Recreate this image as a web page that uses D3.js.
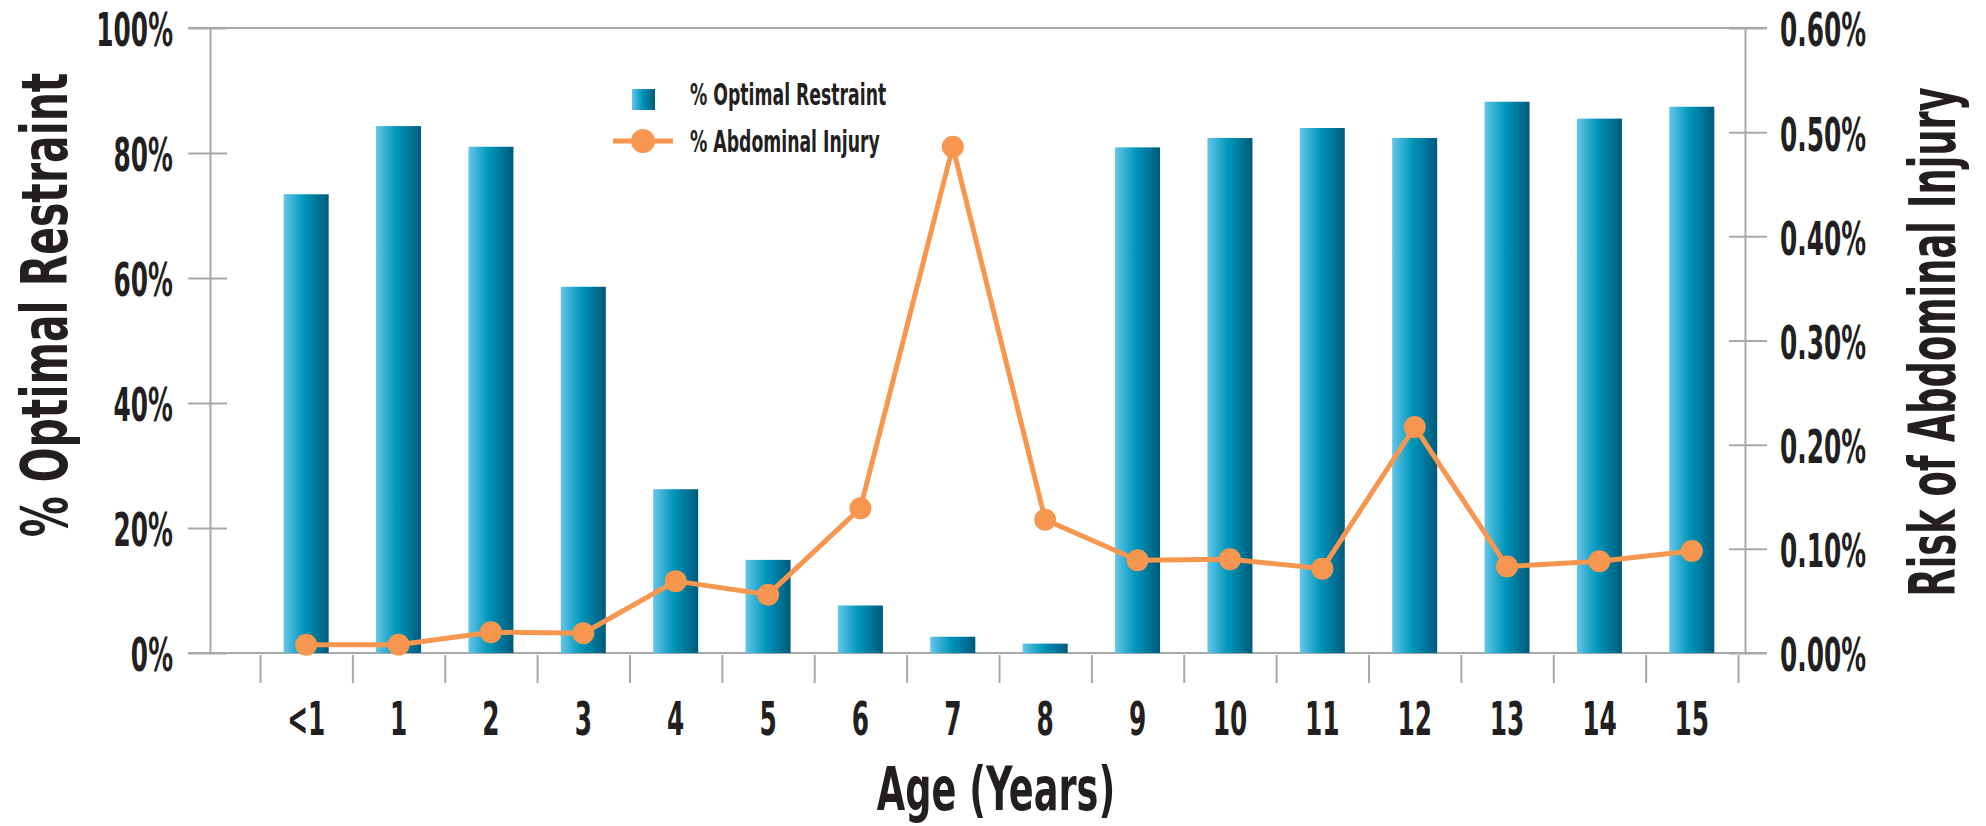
<!DOCTYPE html>
<html>
<head>
<meta charset="utf-8">
<script src="https://cdn.jsdelivr.net/npm/d3@7"></script>
<style>
  body { margin: 0; background: #fff; }
  svg text { font-family: 'DejaVu Sans Condensed', 'Liberation Sans Narrow', sans-serif; font-weight: bold; fill: #231f20; }
</style>
</head>
<body>
<svg id="chart" width="1986" height="826"></svg>
<script>
/* global d3 */
// data
const ages = ['<1', '1', '2', '3', '4', '5', '6', '7', '8', '9', '10', '11', '12', '13', '14', '15']
const optimalRestraint = [73.4, 84.3, 81.0, 58.6, 26.2, 14.9, 7.6, 2.6, 1.5, 80.9, 82.4, 84.0, 82.4, 88.2, 85.5, 87.4]
const abdominalInjury = [0.008, 0.008, 0.020, 0.019, 0.069, 0.056, 0.139, 0.486, 0.128, 0.089, 0.090, 0.081, 0.217, 0.083, 0.088, 0.098]
const leftTicks = [0, 20, 40, 60, 80, 100]
const rightTicks = [0, 0.1, 0.2, 0.3, 0.4, 0.5, 0.6]

const svg = d3.select('#chart')
const plot = { left: 210, right: 1745, top: 28, bottom: 653 }
const gridColor = '#a8a8a8'
const orange = '#f7964f'
const tickSx = 0.6 // squeeze for a condensed look

const x = d3.scaleBand().domain(ages).range([260, 1738])
const xEdge = d3.scaleLinear().domain([0, ages.length]).range(x.range())
const yL = d3.scaleLinear().domain([0, 100]).range([plot.bottom, plot.top])
const yR = d3.scaleLinear().domain([0, 0.6]).range([plot.bottom, plot.top])
const cx = (d) => x(d) + x.bandwidth() / 2

// bar gradient
const grad = svg.append('defs').append('linearGradient')
    .attr('id', 'barGrad')
    .attr('x1', 0).attr('x2', 1).attr('y1', 0).attr('y2', 0)
grad.append('stop').attr('offset', '0%').attr('stop-color', '#64c6e9')
grad.append('stop').attr('offset', '45%').attr('stop-color', '#0096bb')
grad.append('stop').attr('offset', '100%').attr('stop-color', '#005a7b')

// frame top / bottom
svg.selectAll('line.frame')
    .data([plot.top, plot.bottom])
    .enter()
    .append('line')
    .attr('class', 'frame')
    .attr('x1', 188).attr('x2', 1767)
    .attr('y1', (d) => d).attr('y2', (d) => d)
    .attr('stroke', gridColor)
    .attr('stroke-width', 2)

// left axis
const gL = svg.append('g')
    .attr('transform', 'translate(' + plot.left + ',0)')
    .call(d3.axisLeft(yL).tickValues(leftTicks).tickSize(22).tickSizeOuter(0).tickFormat((d) => d + '%'))
gL.select('.domain').attr('stroke', gridColor).attr('stroke-width', 2)
gL.selectAll('.tick line').attr('x1', 17).attr('stroke', gridColor).attr('stroke-width', 2)
gL.selectAll('.tick text')
    .attr('x', -37 / tickSx)
    .attr('dy', '0.39em')
    .attr('transform', 'scale(' + tickSx + ',1)')
    .style('font-size', '46px')
    .attr('fill', '#231f20')

// right axis
const gR = svg.append('g')
    .attr('transform', 'translate(' + plot.right + ',0)')
    .call(d3.axisRight(yR).tickValues(rightTicks).tickSize(22).tickSizeOuter(0).tickFormat((d) => d.toFixed(2) + '%'))
gR.select('.domain').attr('stroke', gridColor).attr('stroke-width', 2)
gR.selectAll('.tick line').attr('x1', -16).attr('stroke', gridColor).attr('stroke-width', 2)
gR.selectAll('.tick text')
    .attr('x', 35 / tickSx)
    .attr('dy', '0.39em')
    .attr('transform', 'scale(' + tickSx + ',1)')
    .style('font-size', '46px')
    .attr('fill', '#231f20')

// bottom category separators
const gB = svg.append('g')
    .attr('transform', 'translate(0,' + plot.bottom + ')')
    .call(d3.axisBottom(xEdge).tickValues(d3.range(ages.length + 1)).tickSize(30).tickSizeOuter(0).tickFormat(''))
gB.select('.domain').remove()
gB.selectAll('.tick line').attr('y1', 2).attr('stroke', gridColor).attr('stroke-width', 2)

// category labels
svg.selectAll('text.age')
    .data(ages)
    .enter()
    .append('text')
    .attr('class', 'age')
    .attr('transform', (d) => 'translate(' + cx(d) + ',735) scale(' + tickSx + ',1)')
    .attr('text-anchor', 'middle')
    .style('font-size', '46px')
    .text((d) => d)

// bars
svg.selectAll('rect.bar')
    .data(ages)
    .enter()
    .append('rect')
    .attr('class', 'bar')
    .attr('x', (d) => cx(d) - 22.5)
    .attr('width', 45)
    .attr('y', (d, i) => yL(optimalRestraint[i]))
    .attr('height', (d, i) => plot.bottom - yL(optimalRestraint[i]))
    .attr('fill', 'url(#barGrad)')

// injury line
const line = d3.line()
    .x((d) => cx(d))
    .y((d, i) => yR(abdominalInjury[i]))
svg.append('path')
    .datum(ages)
    .attr('d', line)
    .attr('fill', 'none')
    .attr('stroke', orange)
    .attr('stroke-width', 5)
    .attr('stroke-linejoin', 'round')
svg.selectAll('circle.dot')
    .data(ages)
    .enter()
    .append('circle')
    .attr('class', 'dot')
    .attr('cx', (d) => cx(d))
    .attr('cy', (d, i) => yR(abdominalInjury[i]))
    .attr('r', 11)
    .attr('fill', orange)

// legend
const legend = svg.append('g')
legend.append('rect')
    .attr('x', 632).attr('y', 89)
    .attr('width', 23).attr('height', 21)
    .attr('fill', 'url(#barGrad)')
legend.append('line')
    .attr('x1', 613).attr('x2', 673)
    .attr('y1', 141).attr('y2', 141)
    .attr('stroke', orange).attr('stroke-width', 5)
legend.append('circle')
    .attr('cx', 643).attr('cy', 141).attr('r', 12)
    .attr('fill', orange)
legend.selectAll('text')
    .data(['% Optimal Restraint', '% Abdominal Injury'])
    .enter()
    .append('text')
    .attr('transform', (d, i) => 'translate(690,' + (105 + i * 47) + ') scale(0.64,1)')
    .style('font-size', '30px')
    .text((d) => d)

// axis titles
svg.append('text')
    .attr('transform', 'translate(67,305) rotate(-90) scale(0.71,1)')
    .attr('text-anchor', 'middle')
    .style('font-size', '64px')
    .text('% Optimal Restraint')
svg.append('text')
    .attr('transform', 'translate(1955,342) rotate(-90) scale(0.64,1)')
    .attr('text-anchor', 'middle')
    .style('font-size', '64px')
    .text('Risk of Abdominal Injury')
svg.append('text')
    .attr('transform', 'translate(996,810) scale(0.68,1)')
    .attr('text-anchor', 'middle')
    .style('font-size', '60px')
    .text('Age (Years)')
</script>
</body>
</html>
